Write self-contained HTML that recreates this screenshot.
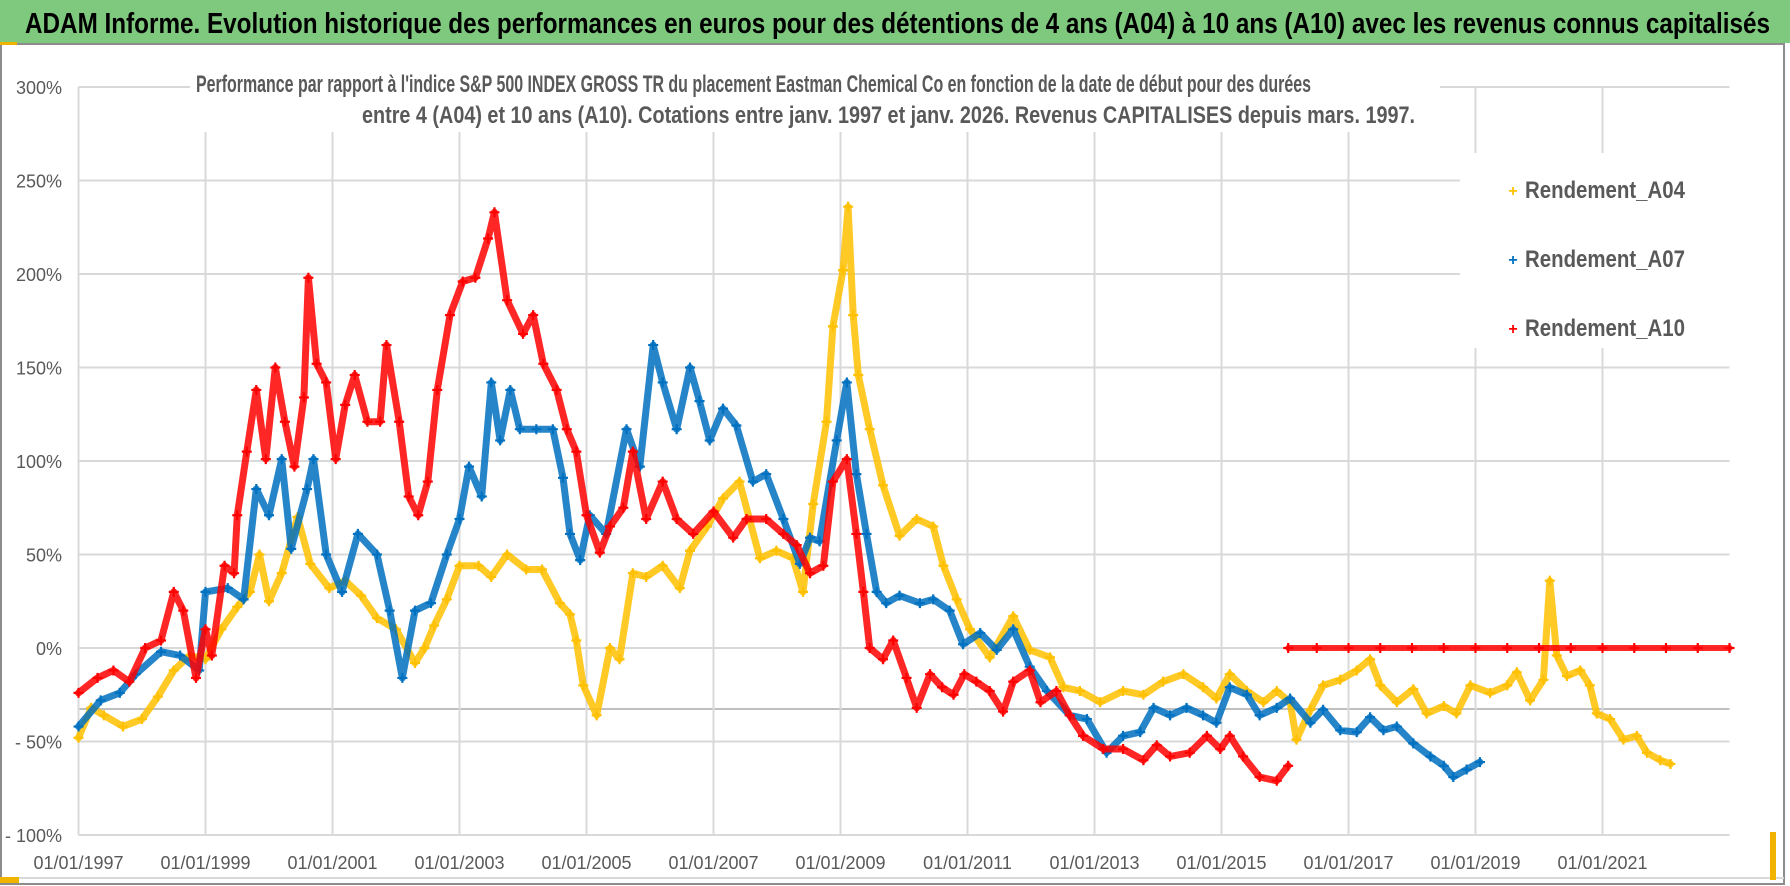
<!DOCTYPE html>
<html><head><meta charset="utf-8"><title>ADAM Informe</title>
<style>
html,body{margin:0;padding:0;background:#fff;}
svg{display:block;font-family:"Liberation Sans",sans-serif;}
</style></head>
<body>
<svg id="chart" width="1790" height="886" viewBox="0 0 1790 886" xmlns="http://www.w3.org/2000/svg">
  <rect x="0" y="0" width="1790" height="886" fill="#fff"/>
  <rect x="1" y="44" width="1783" height="840" fill="none" stroke="#8c8c8c" stroke-width="2"/>
  <rect x="0" y="0" width="1790" height="43" fill="#7fc97f"/>
  <rect x="0" y="42" width="17" height="3" fill="#f0b400"/>
  <text x="25" y="33" font-size="29" font-weight="bold" fill="#000" textLength="1745" lengthAdjust="spacingAndGlyphs">ADAM Informe. Evolution historique des performances en euros pour des détentions de 4 ans (A04) à 10 ans (A10) avec les revenus connus capitalisés</text>
  <line x1="0" y1="878" x2="1784" y2="878" stroke="#d9d9d9" stroke-width="2"/>
  <rect x="0" y="877" width="19" height="6" fill="#f0b400"/>
  <rect x="1770" y="832" width="6" height="48" fill="#f0b400"/>
  <g id="grid"></g>
  <g id="series"></g>
  <g id="axes"></g>
  <rect x="190" y="60" width="1250" height="72" fill="#fff"/>
  <text x="196" y="92" font-size="24" font-weight="bold" fill="#595959" textLength="1115" lengthAdjust="spacingAndGlyphs">Performance par rapport à l'indice S&amp;P 500 INDEX GROSS TR  du placement Eastman Chemical Co en fonction de la date de début pour des durées</text>
  <text x="362" y="123" font-size="24" font-weight="bold" fill="#595959" textLength="1053" lengthAdjust="spacingAndGlyphs">entre 4 (A04) et 10 ans (A10). Cotations entre janv. 1997 et janv. 2026. Revenus CAPITALISES depuis mars. 1997.</text>
  <g>
    <rect x="1460" y="153" width="270" height="195" fill="#fff"/>
    <g>
      <text x="1513" y="196" font-size="16" font-weight="bold" fill="#ffc000" text-anchor="middle">+</text>
      <text x="1525" y="198" font-size="24" font-weight="bold" fill="#595959" textLength="160" lengthAdjust="spacingAndGlyphs">Rendement_A04</text>
    </g>
    <g>
      <text x="1513" y="265" font-size="16" font-weight="bold" fill="#0070c0" text-anchor="middle">+</text>
      <text x="1525" y="267" font-size="24" font-weight="bold" fill="#595959" textLength="160" lengthAdjust="spacingAndGlyphs">Rendement_A07</text>
    </g>
    <g>
      <text x="1513" y="334" font-size="16" font-weight="bold" fill="#ff0000" text-anchor="middle">+</text>
      <text x="1525" y="336" font-size="24" font-weight="bold" fill="#595959" textLength="160" lengthAdjust="spacingAndGlyphs">Rendement_A10</text>
    </g>
  </g>
</svg>
<script>
// ---- data ----
const yTicks = [300, 250, 200, 150, 100, 50, 0, -50, -100];
const yTickLabels = ["300%", "250%", "200%", "150%", "100%", "50%", "0%", "- 50%", "- 100%"];
const xTicks = [1997, 1999, 2001, 2003, 2005, 2007, 2009, 2011, 2013, 2015, 2017, 2019, 2021];
const xTickLabels = ["01/01/1997","01/01/1999","01/01/2001","01/01/2003","01/01/2005","01/01/2007","01/01/2009","01/01/2011","01/01/2013","01/01/2015","01/01/2017","01/01/2019","01/01/2021"];

const a04Dates = [1997.0,1997.2,1997.4,1997.7,1998.0,1998.25,1998.5,1998.75,1999.0,1999.25,1999.5,1999.7,1999.85,2000.0,2000.2,2000.45,2000.65,2000.95,2001.2,2001.45,2001.7,2002.0,2002.3,2002.45,2002.6,2002.8,2003.0,2003.3,2003.5,2003.75,2004.05,2004.3,2004.58,2004.74,2004.84,2004.95,2005.16,2005.37,2005.52,2005.73,2005.94,2006.2,2006.47,2006.63,2006.9,2007.15,2007.41,2007.73,2007.99,2008.25,2008.41,2008.57,2008.78,2008.88,2009.04,2009.12,2009.2,2009.28,2009.46,2009.67,2009.93,2010.2,2010.46,2010.62,2010.83,2011.04,2011.35,2011.72,2011.98,2012.3,2012.51,2012.77,2013.09,2013.45,2013.77,2014.08,2014.4,2014.71,2014.92,2015.13,2015.4,2015.66,2015.87,2016.08,2016.18,2016.4,2016.6,2016.87,2017.13,2017.34,2017.5,2017.76,2018.02,2018.23,2018.5,2018.7,2018.92,2019.23,2019.5,2019.65,2019.86,2020.07,2020.17,2020.28,2020.44,2020.65,2020.8,2020.91,2021.12,2021.33,2021.54,2021.7,2021.91,2022.07];
const a04Values = [-48,-32,-36,-42,-38,-26,-12,-4,-6,10,22,30,50,25,40,70,45,32,36,28,16,10,-8,0,12,26,44,44,38,50,42,42,24,18,4,-20,-36,0,-6,40,38,44,32,52,65,80,89,48,52,48,30,77,121,172,202,236,178,146,117,87,60,69,65,44,26,10,-5,17,-1,-5,-21,-23,-29,-23,-25,-18,-14,-21,-27,-14,-23,-29,-23,-29,-49,-33,-20,-17,-12,-6,-20,-29,-22,-35,-31,-35,-20,-24,-20,-13,-28,-17,36,-4,-15,-12,-20,-35,-38,-49,-47,-56,-60,-62];

const a07Dates = [1997.0,1997.35,1997.65,1997.9,1998.3,1998.6,1998.9,1999.0,1999.35,1999.6,1999.8,2000.0,2000.2,2000.35,2000.6,2000.7,2000.9,2001.15,2001.4,2001.7,2001.9,2002.1,2002.3,2002.55,2002.8,2003.0,2003.15,2003.35,2003.5,2003.64,2003.8,2003.95,2004.21,2004.47,2004.63,2004.74,2004.9,2005.05,2005.31,2005.63,2005.84,2006.05,2006.2,2006.42,2006.63,2006.78,2006.94,2007.15,2007.36,2007.62,2007.83,2008.1,2008.36,2008.52,2008.67,2008.94,2009.1,2009.25,2009.41,2009.57,2009.72,2009.93,2010.25,2010.46,2010.72,2010.93,2011.2,2011.46,2011.72,2011.98,2012.25,2012.61,2012.88,2013.19,2013.45,2013.72,2013.93,2014.19,2014.45,2014.71,2014.92,2015.13,2015.4,2015.6,2015.87,2016.08,2016.4,2016.6,2016.87,2017.13,2017.34,2017.55,2017.76,2018.02,2018.29,2018.5,2018.65,2018.86,2019.07];
const a07Values = [-42,-28,-24,-14,-2,-4,-12,30,32,26,85,71,101,53,85,101,50,30,61,50,20,-16,20,24,50,69,97,81,142,111,138,117,117,117,91,61,47,71,61,117,97,162,142,117,150,132,111,128,119,89,93,69,45,59,57,111,142,93,61,30,24,28,24,26,20,2,8,-1,10,-10,-23,-36,-38,-56,-47,-45,-32,-36,-32,-36,-40,-21,-25,-36,-32,-27,-40,-33,-44,-45,-37,-44,-42,-51,-58,-63,-69,-65,-61];

const a10Dates = [1997.0,1997.3,1997.55,1997.8,1998.05,1998.3,1998.5,1998.65,1998.85,1999.0,1999.1,1999.3,1999.45,1999.5,1999.65,1999.8,1999.95,2000.1,2000.25,2000.4,2000.55,2000.62,2000.75,2000.9,2001.05,2001.2,2001.35,2001.55,2001.75,2001.85,2002.05,2002.2,2002.35,2002.5,2002.65,2002.85,2003.05,2003.25,2003.45,2003.55,2003.75,2004.0,2004.16,2004.32,2004.53,2004.69,2004.84,2005.0,2005.21,2005.37,2005.58,2005.73,2005.94,2006.2,2006.42,2006.68,2007.0,2007.31,2007.52,2007.83,2008.1,2008.31,2008.52,2008.73,2008.88,2009.1,2009.25,2009.36,2009.46,2009.67,2009.83,2010.04,2010.2,2010.41,2010.6,2010.78,2010.95,2011.14,2011.35,2011.56,2011.72,2011.98,2012.15,2012.4,2012.61,2012.82,2013.14,2013.45,2013.77,2013.98,2014.19,2014.5,2014.77,2014.98,2015.13,2015.34,2015.6,2015.87,2016.05];
const a10Values = [-24,-16,-12,-18,0,4,30,20,-16,10,-4,44,40,71,105,138,101,150,121,97,134,198,152,142,101,130,146,121,121,162,121,81,71,89,138,178,196,198,219,233,186,168,178,152,138,117,105,71,51,65,75,105,69,89,69,61,73,59,69,69,61,55,40,44,89,101,61,30,0,-6,4,-16,-32,-14,-21,-25,-14,-18,-23,-34,-18,-12,-29,-23,-36,-47,-54,-54,-60,-52,-58,-56,-47,-54,-47,-58,-69,-71,-63];

const a10FlatDates = [2016.05,2016.5,2017.0,2017.5,2018.0,2018.5,2019.0,2019.5,2020.0,2020.5,2021.0,2021.5,2022.0,2022.5,2023.0];
const a10FlatValues = [0,0,0,0,0,0,0,0,0,0,0,0,0,0,0];

// ---- axes ----
const X0 = 78.5, PX_PER_YEAR = 63.5;
const Y0 = 648, PX_PER_PCT = 1.87;
function xScale(year){ return X0 + (year - 1997) * PX_PER_YEAR; }
function yScale(v){ return Y0 - v * PX_PER_PCT; }
const NS = "http://www.w3.org/2000/svg";
function mk(tag, attrs){ const e = document.createElementNS(NS, tag); for (const k in attrs) e.setAttribute(k, attrs[k]); return e; }

const grid = document.getElementById('grid');
const axes = document.getElementById('axes');
const plotRight = xScale(2023);
const plotBottom = yScale(-100);

yTicks.forEach((t, i) => {
  const y = yScale(t);
  const ln = mk('line', {x1: X0, x2: plotRight, y1: y, y2: y, stroke: '#d9d9d9', 'stroke-width': 2});
  
  
  grid.appendChild(ln);
  const tx = mk('text', {x: 62, y: y + 7, 'font-size': 18, fill: '#595959', 'text-anchor': 'end'});
  tx.textContent = yTickLabels[i];
  
  
  axes.appendChild(tx);
});
const extra = mk('line', {x1: X0, x2: plotRight, y1: 709, y2: 709, stroke: '#bfbfbf', 'stroke-width': 2});


grid.appendChild(extra);

xTicks.forEach((t, i) => {
  const x = xScale(t);
  const ln = mk('line', {x1: x, x2: x, y1: yScale(300), y2: plotBottom, stroke: '#d9d9d9', 'stroke-width': 2});
  
  
  grid.appendChild(ln);
  const tx = mk('text', {x: x, y: 869, 'font-size': 18, fill: '#595959', 'text-anchor': 'middle'});
  tx.textContent = xTickLabels[i];
  
  
  axes.appendChild(tx);
});

// ---- series ----
const series = document.getElementById('series');
function drawSeries(dates, vals, color, name, bandWidth){
  const g = mk('g', {});
  
  
  const pts = dates.map((d, i) => xScale(d).toFixed(1) + ',' + yScale(vals[i]).toFixed(1)).join(' ');
  const pl = mk('polyline', {points: pts, fill: 'none', stroke: color, 'stroke-width': bandWidth, 'stroke-linejoin': 'round', 'stroke-linecap': 'round', opacity: 0.85});
  
  
  g.appendChild(pl);
  dates.forEach((d, i) => {
    const x = xScale(d), y = yScale(vals[i]);
    const p = mk('path', {d: `M${x-5},${y}H${x+5}M${x},${y-5}V${y+5}`, stroke: color, 'stroke-width': 2.2});
    
    
    g.appendChild(p);
  });
  series.appendChild(g);
}
drawSeries(a04Dates, a04Values, '#ffc000', 'series-a04', 7);
drawSeries(a07Dates, a07Values, '#0070c0', 'series-a07', 7);
drawSeries(a10Dates, a10Values, '#ff0000', 'series-a10', 7);
drawSeries(a10FlatDates, a10FlatValues, '#ff0000', 'series-a10-flat', 6);
</script>
</body></html>
